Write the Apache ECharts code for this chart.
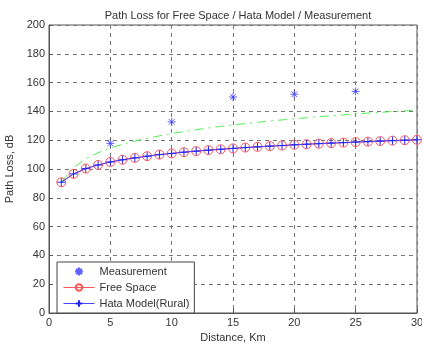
<!DOCTYPE html>
<html>
<head>
<meta charset="utf-8">
<script src="https://cdn.jsdelivr.net/npm/echarts@6/dist/echarts.min.js"></script>
<style>html,body{margin:0;padding:0;background:#fff}#c{width:422px;height:345px}</style>
</head>
<body>
<div id="c"></div>
<script>
var distances = [1,2,3,4,5,6,7,8,9,10,11,12,13,14,15,16,17,18,19,20,21,22,23,24,25,26,27,28,29,30];
var freeSpace = [90.8,96.6,100.3,102.8,104.9,106.4,107.7,108.9,110.0,110.8,111.7,112.4,113.1,113.7,114.3,114.9,115.4,115.9,116.3,116.8,117.2,117.6,118.0,118.3,118.7,119.0,119.4,119.7,120.0,120.3];
var hataRural = [90.8,96.6,100.3,102.8,104.9,106.4,107.7,108.9,110.0,110.8,111.7,112.4,113.1,113.7,114.3,114.9,115.4,115.9,116.3,116.8,117.2,117.6,118.0,118.3,118.7,119.0,119.4,119.7,120.0,120.3];
var greenCurve = [91.0,101.0,107.0,111.3,114.5,117.2,119.4,121.3,123.0,124.6,126.0,127.3,128.5,129.6,130.6,131.5,132.4,133.3,134.1,134.9,135.6,136.3,137.0,137.6,138.2,138.8,139.3,139.9,140.4,140.9];
var measDist = [5,10,15,20,25];
var measurement = [117.8,132.7,150.0,151.9,153.9];

function pairs(xs, ys){ return xs.map(function(x,i){ return [x, ys[i]]; }); }

var asterisk = 'path://M0,-5L0,5M-5,0L5,0M-3.5,-3.5L3.5,3.5M-3.5,3.5L3.5,-3.5';
var plus = 'path://M0,-5L0,5M-5,0L5,0';
var font = 'Liberation Sans, Arial, sans-serif';

var chart = echarts.init(document.getElementById('c'), null, {renderer:'canvas'});
chart.setOption({
  animation: false,
  backgroundColor: '#fff',
  title: {
    text: 'Path Loss for Free Space / Hata Model / Measurement',
    left: 233, top: 5, textAlign: 'center',
    textStyle: {fontFamily: font, fontSize: 11, fontWeight: 'normal', color: '#333'}
  },
  grid: {left: 49, right: 5, top: 25, bottom: 32, show: true, borderColor: '#555', borderWidth: 1, backgroundColor: 'transparent', outerBoundsMode: 'none', containLabel: false},
  legend: {
    orient: 'vertical', left: 57, top: 262,
    backgroundColor: '#fff', borderColor: '#444', borderWidth: 1, borderRadius: 0,
    padding: [3, 5, 3, 6], itemGap: 3, itemWidth: 31, itemHeight: 8,
    lineStyle: {width: 1},
    textStyle: {fontFamily: font, fontSize: 11, color: '#333', lineHeight: 13},
    data: ['Measurement', 'Free Space', 'Hata Model(Rural)']
  },
  xAxis: {
    type: 'value', min: 0, max: 30, interval: 5,
    name: 'Distance, Km', nameLocation: 'middle', nameGap: 18,
    nameTextStyle: {fontFamily: font, fontSize: 11, color: '#333'},
    axisLine: {show: true, lineStyle: {color: '#555'}},
    axisTick: {show: true, inside: true, length: 4, lineStyle: {color: '#555'}},
    axisLabel: {fontFamily: font, fontSize: 11, color: '#333', margin: 4},
    splitLine: {show: true, lineStyle: {color: '#777', type: [4, 4], width: 1}}
  },
  yAxis: {
    type: 'value', min: 0, max: 200, interval: 20,
    name: 'Path Loss, dB', nameLocation: 'middle', nameGap: 30,
    nameTextStyle: {fontFamily: font, fontSize: 11, color: '#333'},
    axisLine: {show: true, lineStyle: {color: '#555'}},
    axisTick: {show: true, inside: true, length: 4, lineStyle: {color: '#555'}},
    axisLabel: {fontFamily: font, fontSize: 11, color: '#333', margin: 4},
    splitLine: {show: true, lineStyle: {color: '#777', type: [4, 4], width: 1}}
  },
  series: [
    {
      name: 'Measurement', type: 'scatter',
      data: pairs(measDist, measurement),
      symbol: asterisk, symbolSize: 8,
      itemStyle: {color: 'rgba(0,0,0,0)', borderColor: '#3a3aff', borderWidth: 1},
      z: 5
    },
    {
      name: 'Free Space', type: 'line',
      data: pairs(distances, freeSpace),
      symbol: 'circle', symbolSize: 9, showSymbol: true,
      lineStyle: {color: '#ff5555', width: 1},
      itemStyle: {color: 'rgba(0,0,0,0)', borderColor: '#ff5555', borderWidth: 1},
      z: 2
    },
    {
      name: 'Hata Model(Rural)', type: 'line',
      data: pairs(distances, hataRural),
      symbol: plus, symbolSize: 8, showSymbol: true,
      lineStyle: {color: '#4444ff', width: 1},
      itemStyle: {color: 'rgba(0,0,0,0)', borderColor: '#2222ff', borderWidth: 1},
      z: 3
    },
    {
      name: 'Hata Urban', type: 'line',
      data: pairs(distances, greenCurve),
      symbol: 'none', showSymbol: false,
      lineStyle: {color: '#55ee55', width: 1, type: [9, 5, 2, 5]},
      z: 1
    }
  ]
});
</script>
</body>
</html>
